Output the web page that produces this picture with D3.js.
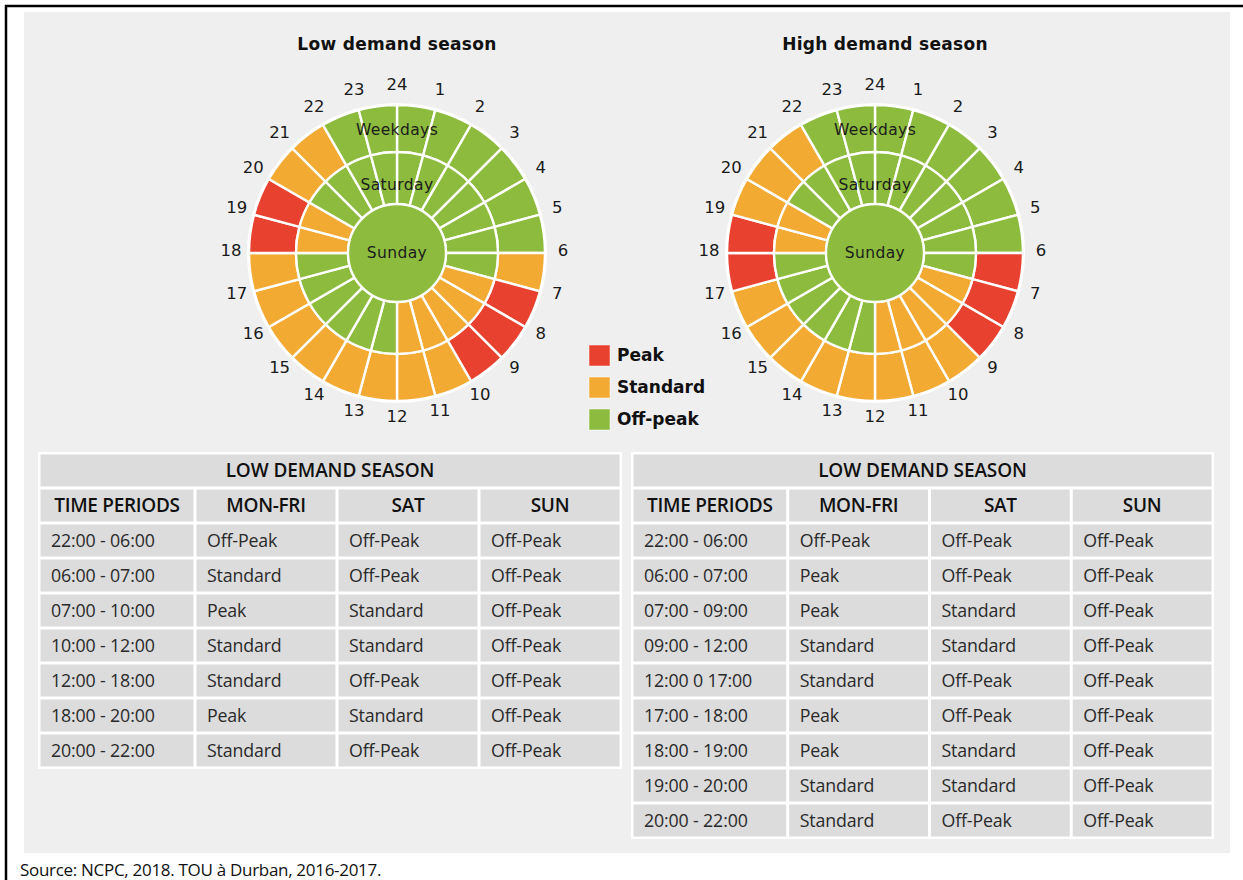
<!DOCTYPE html>
<html>
<head>
<meta charset="utf-8">
<script src="https://cdn.jsdelivr.net/npm/d3@7"></script>
<style>
body { margin: 0; background: #fff; }
svg { display: block; }
</style>
</head>
<body>
<svg id="chart" width="1243" height="880"></svg>
<script>
// hour slots 0..23, P = peak, S = standard, O = off-peak
const hourLabels = d3.range(1, 25);
const lowWeekdays  = ["O","O","O","O","O","O","S","P","P","P","S","S","S","S","S","S","S","S","P","P","S","S","O","O"];
const lowSaturday  = ["O","O","O","O","O","O","O","S","S","S","S","S","O","O","O","O","O","O","S","S","O","O","O","O"];
const highWeekdays = ["O","O","O","O","O","O","P","P","P","S","S","S","S","S","S","S","S","P","P","S","S","S","O","O"];
const highSaturday = ["O","O","O","O","O","O","O","S","S","S","S","S","O","O","O","O","O","O","S","S","O","O","O","O"];
const sundayTariff = "O";

const wheelTitles = ["Low demand season", "High demand season"];
const ringNames = ["Weekdays", "Saturday", "Sunday"];
const legendKeys = ["P", "S", "O"];
const legendNames = ["Peak", "Standard", "Off-peak"];

const tableTitles = ["LOW DEMAND SEASON", "LOW DEMAND SEASON"];
const tableHeader = ["TIME PERIODS", "MON-FRI", "SAT", "SUN"];
const lowRows = [
  ["22:00 - 06:00", "Off-Peak", "Off-Peak", "Off-Peak"],
  ["06:00 - 07:00", "Standard", "Off-Peak", "Off-Peak"],
  ["07:00 - 10:00", "Peak", "Standard", "Off-Peak"],
  ["10:00 - 12:00", "Standard", "Standard", "Off-Peak"],
  ["12:00 - 18:00", "Standard", "Off-Peak", "Off-Peak"],
  ["18:00 - 20:00", "Peak", "Standard", "Off-Peak"],
  ["20:00 - 22:00", "Standard", "Off-Peak", "Off-Peak"]
];
const highRows = [
  ["22:00 - 06:00", "Off-Peak", "Off-Peak", "Off-Peak"],
  ["06:00 - 07:00", "Peak", "Off-Peak", "Off-Peak"],
  ["07:00 - 09:00", "Peak", "Standard", "Off-Peak"],
  ["09:00 - 12:00", "Standard", "Standard", "Off-Peak"],
  ["12:00 0 17:00", "Standard", "Off-Peak", "Off-Peak"],
  ["17:00 - 18:00", "Peak", "Off-Peak", "Off-Peak"],
  ["18:00 - 19:00", "Peak", "Standard", "Off-Peak"],
  ["19:00 - 20:00", "Standard", "Standard", "Off-Peak"],
  ["20:00 - 22:00", "Standard", "Off-Peak", "Off-Peak"]
];
const sourceNote = "Source: NCPC, 2018. TOU à Durban, 2016-2017.";

const svg = d3.select("#chart");
const color = d3.scaleOrdinal(legendKeys, ["#e8412f", "#f3aa33", "#8cbb3d"]);
const angle = d3.scaleLinear().domain([0, 24]).range([0, 2 * Math.PI]);

// frame + grey panel
svg.append("rect").attr("x", 24).attr("y", 12).attr("width", 1206).attr("height", 841).attr("fill", "#efefef");
svg.append("line").attr("x1", 5).attr("x2", 1243).attr("y1", 6).attr("y2", 6).attr("stroke", "#000").attr("stroke-width", 2.5);
svg.append("line").attr("x1", 6).attr("x2", 6).attr("y1", 5).attr("y2", 880).attr("stroke", "#000").attr("stroke-width", 2.5);

function drawWheel(cx, titleX, title, weekdays, saturday) {
  let g = svg.append("g").attr("transform", `translate(${cx},253)`);
  let rings = [
    { data: weekdays, r0: 101, r1: 148 },
    { data: saturday, r0: 49, r1: 101 }
  ];
  let arc = d3.arc();
  rings.forEach(function (ring) {
    g.selectAll(null)
      .data(ring.data)
      .enter()
      .append("path")
      .attr("d", function (d, i) {
        return arc({ innerRadius: ring.r0, outerRadius: ring.r1, startAngle: angle(i), endAngle: angle(i + 1) });
      })
      .attr("fill", d => color(d))
      .attr("stroke", "#fff")
      .attr("stroke-width", 2.4);
  });
  g.append("circle").attr("r", 49).attr("fill", color(sundayTariff)).attr("stroke", "#fff").attr("stroke-width", 2.4);
  g.append("circle").attr("r", 149).attr("fill", "none").attr("stroke", "#fff").attr("stroke-width", 2);

  g.selectAll(".hour")
    .data(hourLabels)
    .enter()
    .append("text")
    .attr("class", "hour")
    .attr("x", d => 166 * Math.sin(angle(d)))
    .attr("y", d => -166 * Math.cos(angle(d)) - 3)
    .attr("dy", "0.35em")
    .attr("text-anchor", "middle")
    .style("font", "16.5px 'DejaVu Sans'")
    .attr("fill", "#1a1a1a")
    .text(d => d);

  let ringY = [-123, -68, 0];
  g.selectAll(".ring")
    .data(ringNames)
    .enter()
    .append("text")
    .attr("class", "ring")
    .attr("y", (d, i) => ringY[i])
    .attr("dy", "0.35em")
    .attr("text-anchor", "middle")
    .style("font", "15.5px 'DejaVu Sans'")
    .style("letter-spacing", "0.4px")
    .attr("fill", "#1c1c1c")
    .text(d => d);

  svg.append("text")
    .attr("x", titleX).attr("y", 44).attr("dy", "0.35em")
    .attr("text-anchor", "middle")
    .style("font", "bold 17px 'DejaVu Sans'")
    .style("letter-spacing", "0.3px")
    .attr("fill", "#111")
    .text(title);
}

drawWheel(397, 397, wheelTitles[0], lowWeekdays, lowSaturday);
drawWheel(875, 885, wheelTitles[1], highWeekdays, highSaturday);

// legend
let legend = svg.append("g").attr("transform", "translate(589,345)");
legend.selectAll("rect")
  .data(legendKeys)
  .enter()
  .append("rect")
  .attr("y", (d, i) => i * 32)
  .attr("width", 21).attr("height", 21)
  .attr("fill", d => color(d))
  .attr("stroke", "#fff").attr("stroke-opacity", 0.5);
legend.selectAll("text")
  .data(legendNames)
  .enter()
  .append("text")
  .attr("x", 28)
  .attr("y", (d, i) => i * 32 + 10)
  .attr("dy", "0.35em")
  .style("font", "bold 17px 'DejaVu Sans'")
  .attr("fill", "#111")
  .text(d => d);

function drawTable(x0, x1, title, rows) {
  let colFrac = [0, 0.268, 0.512, 0.756, 1];
  let xs = d3.scaleLinear().domain([0, 1]).range([x0, x1]);
  let ys = d3.scaleLinear().domain([0, 1]).range([453, 488]);
  let nRows = rows.length + 2;
  let g = svg.append("g");
  g.append("rect")
    .attr("x", x0 - 1).attr("y", ys(0) - 1)
    .attr("width", x1 - x0 + 2).attr("height", ys(nRows) - ys(0) + 2)
    .attr("fill", "#fff");

  // title row
  g.append("rect")
    .attr("x", x0 + 1.5).attr("y", ys(0) + 1.5)
    .attr("width", x1 - x0 - 3).attr("height", 32)
    .attr("fill", "#dcdcdc");
  g.append("text")
    .attr("x", (x0 + x1) / 2).attr("y", ys(0) + 17.5).attr("dy", "0.35em")
    .attr("text-anchor", "middle")
    .style("font", "600 19px 'Open Sans'")
    .style("letter-spacing", "-0.1px")
    .attr("fill", "#111")
    .text(title);

  let body = [tableHeader].concat(rows);
  body.forEach(function (row, r) {
    let ri = r + 1;
    let cells = g.selectAll(null).data(row).enter();
    cells.append("rect")
      .attr("x", (d, c) => xs(colFrac[c]) + 1.5)
      .attr("y", ys(ri) + 1.5)
      .attr("width", (d, c) => xs(colFrac[c + 1]) - xs(colFrac[c]) - 3)
      .attr("height", 32)
      .attr("fill", "#dcdcdc");
    cells.append("text")
      .attr("x", (d, c) => r === 0 ? (xs(colFrac[c]) + xs(colFrac[c + 1])) / 2 : xs(colFrac[c]) + 12)
      .attr("y", ys(ri) + 17.5)
      .attr("dy", "0.35em")
      .attr("text-anchor", r === 0 ? "middle" : "start")
      .style("font", r === 0 ? "600 19px 'Open Sans'" : "17.8px 'Open Sans'")
      .style("letter-spacing", r === 0 ? "-0.3px" : "-0.15px")
      .attr("fill", r === 0 ? "#111" : "#2a2a2a")
      .text(d => d);
  });
}

drawTable(39, 621, tableTitles[0], lowRows);
drawTable(632, 1213, tableTitles[1], highRows);

svg.append("text")
  .attr("x", 20).attr("y", 870).attr("dy", "0.35em")
  .style("font", "17px 'Open Sans'")
  .style("letter-spacing", "-0.3px")
  .attr("fill", "#111")
  .text(sourceNote);
</script>
</body>
</html>
